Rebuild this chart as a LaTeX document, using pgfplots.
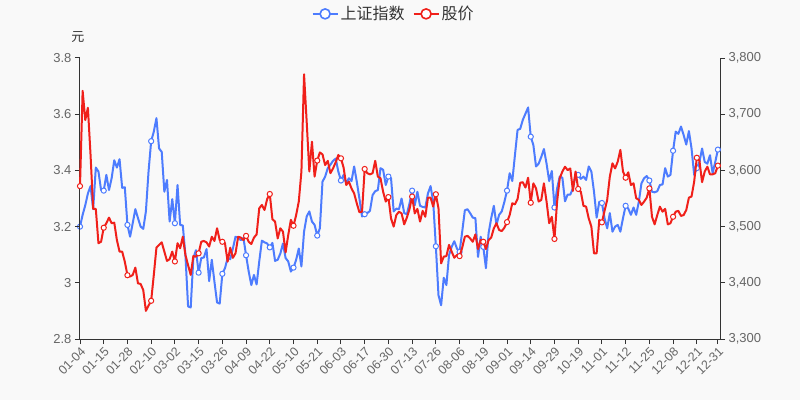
\documentclass[border=0pt]{standalone}
\usepackage{fontspec}
\setmainfont{Liberation Sans}
\newfontfamily\cjk{Noto Sans CJK SC}
\usepackage{pgfplots}
\usepackage{pgfplotstable}
\pgfplotsset{compat=1.18}
\definecolor{bgc}{HTML}{F9F9F9}
\definecolor{shc}{HTML}{4D7CFE}
\definecolor{pxc}{HTML}{F0201A}
\definecolor{axc}{HTML}{333333}
\definecolor{lblc}{HTML}{666666}

% i = trading day index, sh = 上证指数 (right axis), px = 股价 (left axis, 元)
\pgfplotstableread{
i sh px
0 3500 3.344
1 3521 3.683
2 3538 3.579
3 3559 3.623
4 3572 3.455
5 3531 3.263
6 3605 3.263
7 3598 3.141
8 3565 3.146
9 3564 3.196
10 3592 3.212
11 3565 3.232
12 3586 3.212
13 3618 3.214
14 3605 3.152
15 3620 3.111
16 3569 3.111
17 3570 3.075
18 3503 3.027
19 3482 3.022
20 3506 3.028
21 3531 3.054
22 3515 2.998
23 3500 2.996
24 3496 2.974
25 3527 2.900
26 3598 2.919
27 3652 2.936
28 3669 3.028
29 3693 3.125
30 3639 3.135
31 3633 3.144
32 3562 3.111
33 3583 3.078
34 3509 3.084
35 3549 3.111
36 3506 3.076
37 3574 3.141
38 3503 3.123
39 3502 3.164
40 3449 3.099
41 3358 3.063
42 3356 3.028
43 3444 3.095
44 3458 3.093
45 3418 3.105
46 3444 3.146
47 3445 3.149
48 3460 3.144
49 3403 3.129
50 3441 3.164
51 3402 3.149
52 3365 3.194
53 3363 3.152
54 3416 3.146
55 3426 3.141
56 3444 3.075
57 3442 3.125
58 3461 3.089
59 3482 3.105
60 3480 3.164
61 3476 3.161
62 3480 3.152
63 3449 3.167
64 3420 3.146
65 3396 3.138
66 3414 3.161
67 3397 3.172
68 3438 3.265
69 3475 3.277
70 3472 3.259
71 3470 3.298
72 3463 3.316
73 3471 3.226
74 3439 3.218
75 3441 3.158
76 3452 3.194
77 3470 3.182
78 3444 3.108
79 3438 3.170
80 3420 3.224
81 3427 3.203
82 3441 3.241
83 3461 3.289
84 3429 3.396
85 3491 3.742
86 3518 3.573
87 3527 3.396
88 3509 3.502
89 3503 3.378
90 3484 3.435
91 3497 3.464
92 3580 3.457
93 3589 3.419
94 3604 3.434
95 3610 3.390
96 3617 3.407
97 3621 3.429
98 3598 3.455
99 3582 3.443
100 3592 3.410
101 3577 3.348
102 3586 3.360
103 3581 3.336
104 3607 3.318
105 3580 3.283
106 3550 3.251
107 3518 3.253
108 3522 3.405
109 3524 3.390
110 3528 3.386
111 3556 3.390
112 3563 3.434
113 3565 3.378
114 3604 3.372
115 3601 3.324
116 3574 3.289
117 3589 3.305
118 3586 3.229
119 3527 3.200
120 3532 3.241
121 3531 3.253
122 3550 3.247
123 3524 3.208
124 3522 3.232
125 3541 3.262
126 3564 3.307
127 3538 3.247
128 3562 3.263
129 3537 3.218
130 3535 3.256
131 3534 3.235
132 3559 3.303
133 3572 3.303
134 3544 3.271
135 3465 3.315
136 3378 3.265
137 3360 3.069
138 3409 3.093
139 3396 3.095
140 3449 3.135
141 3464 3.111
142 3474 3.089
143 3461 3.099
144 3455 3.095
145 3491 3.125
146 3529 3.164
147 3531 3.167
148 3524 3.158
149 3516 3.146
150 3515 3.172
151 3446 3.120
152 3482 3.152
153 3464 3.146
154 3426 3.120
155 3488 3.152
156 3515 3.161
157 3537 3.194
158 3503 3.212
159 3521 3.188
160 3527 3.184
161 3544 3.196
162 3564 3.216
163 3595 3.241
164 3581 3.283
165 3627 3.279
166 3672 3.298
167 3674 3.356
168 3690 3.358
169 3701 3.339
170 3712 3.374
171 3660 3.285
172 3645 3.354
173 3607 3.336
174 3612 3.289
175 3624 3.295
176 3638 3.354
177 3612 3.289
178 3581 3.212
179 3599 3.235
180 3534 3.156
181 3568 3.289
182 3589 3.372
183 3587 3.396
184 3545 3.413
185 3557 3.401
186 3557 3.407
187 3568 3.327
188 3592 3.396
189 3592 3.334
190 3585 3.324
191 3589 3.274
192 3583 3.271
193 3607 3.229
194 3598 3.200
195 3562 3.105
196 3516 3.105
197 3544 3.224
198 3542 3.215
199 3515 3.256
200 3497 3.295
201 3524 3.378
202 3491 3.425
203 3500 3.407
204 3503 3.431
205 3491 3.473
206 3515 3.396
207 3537 3.374
208 3532 3.393
209 3521 3.348
210 3534 3.354
211 3521 3.301
212 3544 3.295
213 3577 3.277
214 3586 3.289
215 3590 3.303
216 3582 3.336
217 3562 3.235
218 3561 3.208
219 3563 3.241
220 3574 3.271
221 3575 3.253
222 3604 3.263
223 3589 3.208
224 3592 3.212
225 3635 3.235
226 3669 3.253
227 3665 3.256
228 3678 3.238
229 3663 3.241
230 3646 3.259
231 3670 3.303
232 3639 3.307
233 3592 3.360
234 3604 3.445
235 3615 3.434
236 3639 3.358
237 3615 3.396
238 3612 3.413
239 3627 3.386
240 3595 3.386
241 3615 3.390
242 3637 3.417
}\prices

\pgfplotsset{
  base/.style={
    scale only axis, width=640bp, height=281bp,
    at={(0,0)}, anchor=south west,
    xmin=0, xmax=242.8, enlargelimits=false,
    tick align=outside, major tick length=5bp,
    axis line style={-, draw=axc, line width=1bp},
    tick style={draw=axc, line width=1bp},
    /pgf/number format/assume math mode=true,
    ticklabel style={font=\fontsize{13bp}{15bp}\selectfont, text=lblc},
  },
  mk/.style={mark=*, mark size=2.6bp,
    mark indices={1,10,19,28,37,46,55,64,73,82,91,100,109,118,127,136,145,154,163,172,181,190,199,208,217,226,235,243},
    mark options={fill=white, draw=#1, line width=1bp, solid}},
}

\begin{document}
\begin{tikzpicture}
\fill[bgc] (-80bp,-61bp) rectangle (720bp,339bp);

% index axis, right
\begin{axis}[base,
  axis x line*=bottom, axis y line*=right,
  ymin=3300, ymax=3800, ytick={3300,3400,3500,3600,3700,3800},
  scaled y ticks=false,
  yticklabel style={/pgf/number format/.cd, fixed, precision=0, 1000 sep={,}},
  xtick={0,9,18,27,36,45,54,63,72,81,90,99,108,117,126,135,144,153,162,171,180,189,198,207,216,225,234,242},
  xticklabels={01-04,01-15,01-28,02-10,03-02,03-15,03-26,04-09,04-22,05-10,05-21,06-03,06-17,06-30,07-13,07-26,08-06,08-19,09-01,09-14,09-29,10-19,11-01,11-12,11-25,12-08,12-21,12-31},
  xticklabel style={rotate=45, anchor=north east, font=\fontsize{12.5bp}{14bp}\selectfont, inner sep=1.5bp},
]
\addplot[shc, line width=2bp, line join=round, mk=shc] table[x=i, y=sh]{\prices};
\end{axis}

% price axis, left
\begin{axis}[base,
  axis x line=none, axis y line*=left, clip=false,
  ymin=2.8, ymax=3.8, ytick={2.8,3,3.2,3.4,3.6,3.8},
  legend columns=2,
  legend style={at={(0.49,1.157)}, anchor=center, draw=none, fill=none,
    font=\cjk\fontsize{16bp}{19bp}\selectfont, text=axc,
    /tikz/every even column/.append style={column sep=6bp}},
  legend image code/.code={
    \draw[#1, line width=2bp, mark=none] (0bp,0bp) -- (25bp,0bp);
    \draw[#1, line width=1.6bp, fill=white, mark=none] (12.5bp,0bp) circle (5bp);},
]
\addlegendimage{shc}
\addlegendentry{上证指数}
\addplot[pxc, line width=2bp, line join=round, mk=pxc] table[x=i, y=px]{\prices};
\addlegendentry{股价}
\node[font=\cjk\fontsize{13bp}{15bp}\selectfont, text=axc, xshift=-2bp, yshift=21bp] at (rel axis cs:0,1) {元};
\end{axis}
\end{tikzpicture}
\end{document}
